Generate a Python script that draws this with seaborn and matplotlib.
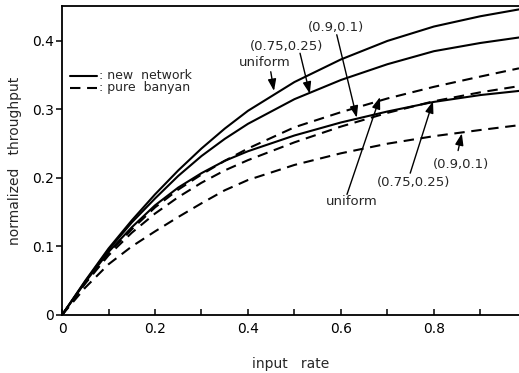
import numpy as np
import pandas as pd
import matplotlib
matplotlib.use("Agg")
import matplotlib.pyplot as plt
import seaborn as sns
from matplotlib.ticker import MultipleLocator

# input rate sample points
input_rate = [0.0, 0.05, 0.1, 0.15, 0.2, 0.25, 0.3, 0.35, 0.4, 0.5, 0.6, 0.7, 0.8, 0.9, 0.983]

# new network throughput
new_uniform = [0.0, 0.050, 0.097, 0.138, 0.176, 0.211, 0.243, 0.272, 0.298, 0.340, 0.373, 0.400, 0.421, 0.436, 0.446]
new_075_025 = [0.0, 0.049, 0.095, 0.135, 0.170, 0.203, 0.232, 0.257, 0.279, 0.315, 0.343, 0.366, 0.385, 0.397, 0.405]
new_09_01 = [0.0, 0.048, 0.092, 0.128, 0.160, 0.186, 0.207, 0.225, 0.239, 0.262, 0.281, 0.297, 0.311, 0.321, 0.327]

# pure banyan throughput
banyan_uniform = [0.0, 0.047, 0.090, 0.125, 0.157, 0.183, 0.205, 0.225, 0.243, 0.274, 0.296, 0.316, 0.333, 0.348, 0.360]
banyan_075_025 = [0.0, 0.046, 0.087, 0.120, 0.148, 0.172, 0.193, 0.211, 0.226, 0.252, 0.275, 0.295, 0.312, 0.325, 0.334]
banyan_09_01 = [0.0, 0.040, 0.074, 0.100, 0.122, 0.143, 0.163, 0.182, 0.197, 0.219, 0.236, 0.250, 0.261, 0.270, 0.277]

series = {
    ("new network", "uniform"): new_uniform,
    ("new network", "(0.75,0.25)"): new_075_025,
    ("new network", "(0.9,0.1)"): new_09_01,
    ("pure banyan", "uniform"): banyan_uniform,
    ("pure banyan", "(0.75,0.25)"): banyan_075_025,
    ("pure banyan", "(0.9,0.1)"): banyan_09_01,
}

rows = []
for (net, traffic), vals in series.items():
    for x, y in zip(input_rate, vals):
        rows.append({"rate": x, "throughput": y, "network": net,
                     "curve": f"{net} {traffic}"})
df = pd.DataFrame(rows)

sns.set_style("ticks")
plt.rcParams["font.family"] = ["DejaVu Sans"]

fig = plt.figure(figsize=(5.19, 3.73), dpi=100)
ax = fig.add_axes([0.1195, 0.1555, 1.0 - 0.1195, 0.984 - 0.1555])

sns.lineplot(data=df, x="rate", y="throughput", hue="curve", style="network",
             palette={c: "black" for c in df["curve"].unique()},
             dashes={"new network": "", "pure banyan": (5, 3.2)},
             estimator=None, sort=True, linewidth=1.5, legend=False, ax=ax)

ax.set_xlim(0, 0.983)
ax.set_ylim(0, 0.451)
ax.spines["right"].set_visible(False)
for s in ["left", "bottom", "top"]:
    ax.spines[s].set_linewidth(1.3)
    ax.spines[s].set_color("black")

ax.xaxis.set_minor_locator(MultipleLocator(0.1))
ax.set_xticks([0, 0.2, 0.4, 0.6, 0.8])
ax.set_xticklabels(["0", "0.2", "0.4", "0.6", "0.8"])
ax.set_yticks([0, 0.1, 0.2, 0.3, 0.4])
ax.set_yticklabels(["0", "0.1", "0.2", "0.3", "0.4"])
ax.tick_params(axis="x", which="both", direction="in", length=4, width=1.1,
               labelsize=10, pad=5, colors="black")
ax.tick_params(axis="y", which="both", direction="out", length=4, width=1.1,
               labelsize=10, pad=2, colors="black")

ax.set_xlabel("input   rate", fontsize=10, labelpad=15)
ax.set_ylabel("normalized   throughput", fontsize=10, labelpad=7)

# legend drawn as line samples with text
ax.plot([0.017, 0.075], [0.349, 0.349], color="black", lw=1.5)
ax.plot([0.017, 0.075], [0.332, 0.332], color="black", lw=1.5, dashes=(5, 3.2))
ax.text(0.08, 0.349, ": new  network", fontsize=9, va="center", ha="left")
ax.text(0.08, 0.332, ": pure  banyan", fontsize=9, va="center", ha="left")

arrow = dict(arrowstyle="-|>,head_length=0.7,head_width=0.25", color="black",
             lw=1.0, shrinkA=0, shrinkB=0)

# (label, arrow tip on curve, label centre, arrow tail)
notes = [
    ("uniform", (0.456, 0.327), (0.437, 0.368), (0.449, 0.355)),
    ("(0.75,0.25)", (0.533, 0.323), (0.484, 0.392), (0.512, 0.382)),
    ("(0.9,0.1)", (0.634, 0.288), (0.589, 0.419), (0.591, 0.409)),
    ("(0.9,0.1)", (0.860, 0.265), (0.858, 0.219), (0.852, 0.240)),
    ("(0.75,0.25)", (0.798, 0.312), (0.757, 0.193), (0.749, 0.207)),
    ("uniform", (0.684, 0.318), (0.623, 0.165), (0.613, 0.176)),
]
for text, tip_xy, text_xy, tail_xy in notes:
    ax.text(text_xy[0], text_xy[1], text, fontsize=9.5, ha="center", va="center")
    ax.annotate("", xy=tip_xy, xytext=tail_xy, arrowprops=arrow)

fig.savefig("out.png", dpi=100)
